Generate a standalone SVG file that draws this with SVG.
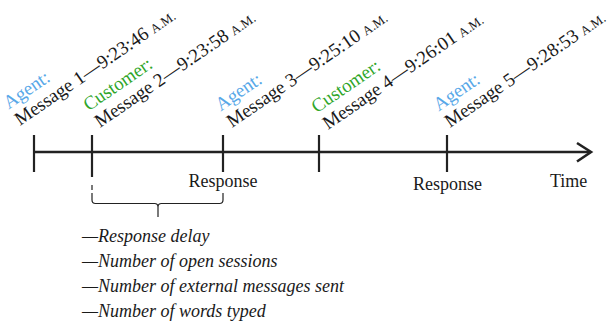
<svg xmlns="http://www.w3.org/2000/svg" width="613" height="326" viewBox="0 0 613 326">
<style>
text{font-family:"Liberation Serif","Times New Roman",serif;font-size:18px;fill:#1a1a1a}
.lbl{font-size:19px}
.agent{fill:#58a8e8}
.cust{fill:#2fa62a}
.sc{font-size:13px}
.it{font-style:italic}
.axis{stroke:#222;stroke-width:2.6;fill:none}
.tick{stroke:#222;stroke-width:2.2;fill:none}
.br{stroke:#222;stroke-width:1.2;fill:none}
</style>
<rect width="613" height="326" fill="#fff"/>
<g id="connectors">
<line class="axis" x1="34" y1="152" x2="590" y2="152"/>
<polyline class="axis" points="577,143 591,152 577,161.5"/>
<path class="br" d="M92 185V190M92 193V200Q92 203.5 95.5 203.5H154.5Q158 203.5 158 207V217M158 207Q158 203.5 161.5 203.5H219.5Q223 203.5 223 200V193"/>
</g>
<g id="msg1">
<line class="tick" x1="34" y1="135" x2="34" y2="172"/>
<text class="lbl" transform="translate(20,126) rotate(-34.5)"><tspan class="agent" x="0" y="-20">Agent:</tspan><tspan x="0" y="0">Message 1—9:23:46 <tspan class="sc">A.M.</tspan></tspan></text>
</g>
<g id="msg2">
<line class="tick" x1="92" y1="135" x2="92" y2="177"/>
<text class="lbl" transform="translate(100,128) rotate(-34.5)"><tspan class="cust" x="0" y="-20">Customer:</tspan><tspan x="0" y="0">Message 2—9:23:58 <tspan class="sc">A.M.</tspan></tspan></text>
</g>
<g id="msg3">
<line class="tick" x1="223" y1="135" x2="223" y2="172"/>
<text class="lbl" transform="translate(232,128) rotate(-34.5)"><tspan class="agent" x="0" y="-20">Agent:</tspan><tspan x="0" y="0">Message 3—9:25:10 <tspan class="sc">A.M.</tspan></tspan></text>
<text x="223" y="187" text-anchor="middle">Response</text>
</g>
<g id="msg4">
<line class="tick" x1="319" y1="135" x2="319" y2="172"/>
<text class="lbl" transform="translate(328,130) rotate(-34.5)"><tspan class="cust" x="0" y="-20">Customer:</tspan><tspan x="0" y="0">Message 4—9:26:01 <tspan class="sc">A.M.</tspan></tspan></text>
</g>
<g id="msg5">
<line class="tick" x1="447" y1="135" x2="447" y2="172"/>
<text class="lbl" transform="translate(450,128) rotate(-34.5)"><tspan class="agent" x="0" y="-20">Agent:</tspan><tspan x="0" y="0">Message 5—9:28:53 <tspan class="sc">A.M.</tspan></tspan></text>
<text x="447.5" y="190" text-anchor="middle">Response</text>
</g>
<g id="time">
<text x="550" y="187">Time</text>
</g>
<g id="features">
<text class="it" x="82" y="242">—Response delay</text>
<text class="it" x="82" y="267">—Number of open sessions</text>
<text class="it" x="82" y="292">—Number of external messages sent</text>
<text class="it" x="82" y="317">—Number of words typed</text>
</g>
</svg>
